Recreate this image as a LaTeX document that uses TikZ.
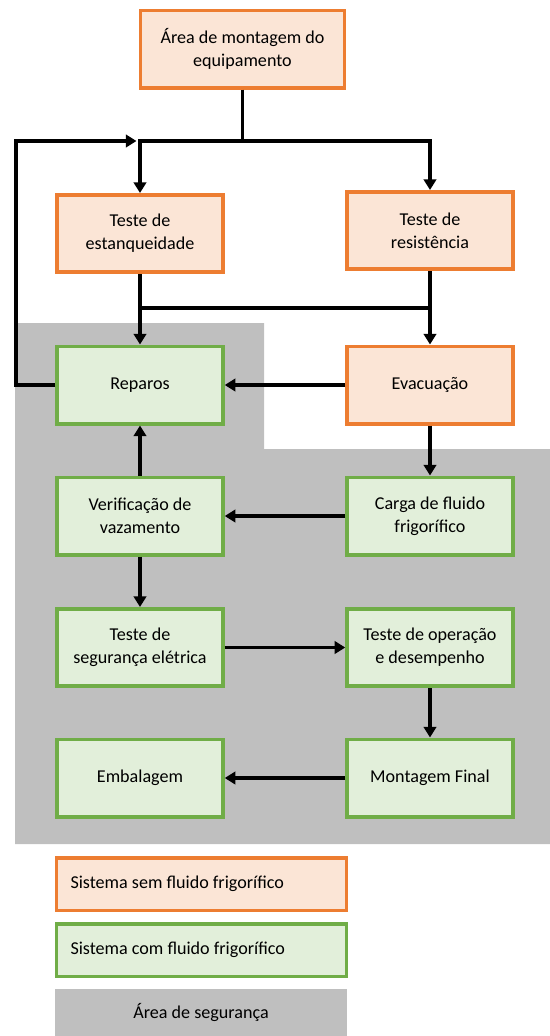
\documentclass[tikz,border=0pt]{standalone}
\usepackage{fontspec}
\setmainfont{Carlito}
\usepackage{xcolor}
\usetikzlibrary{positioning, calc, arrows.meta}

\definecolor{semline}{HTML}{ED7D31}
\definecolor{semfill}{HTML}{FBE5D6}
\definecolor{comline}{HTML}{70AD47}
\definecolor{comfill}{HTML}{E2EFDA}
\definecolor{areagray}{HTML}{BFBFBF}

\begin{document}
\begin{tikzpicture}[x=0.02cm,y=-0.02cm,font=\fontsize{10.3}{13}\selectfont,
    semfl/.style={draw=semline,fill=semfill,line width=2pt,minimum width=3.32cm,minimum height=1.55cm,align=center,inner sep=2pt},
    comfl/.style={draw=comline,fill=comfill,line width=2pt,minimum width=3.32cm,minimum height=1.55cm,align=center,inner sep=2pt},
    legenda/.style={align=flush left,text width=5.24cm,inner xsep=0.28cm,minimum height=1.05cm},
    flecha/.style={line width=2pt,-{Triangle[length=6pt,width=7pt]}}]
    \useasboundingbox (0,0) rectangle (550,1036);
    % area de seguranca
    \fill[areagray] (15,323) -- (264,323) -- (264,449) -- (550,449) -- (550,844) -- (15,844) -- cycle;
        \node[semfl,minimum width=4.08cm] (montagem) at (242.5,49) {Área de montagem do\\equipamento};
        \node[semfl] (estanq) at (140,233.5) {Teste de\\estanqueidade};
        \node[semfl] (resist) at (430,230.5) {Teste de\\resistência};
        \node[comfl] (reparos) at (140,385) {Reparos};
        \node[semfl] (evac) at (430,385) {Evacuação};
        \node[comfl] (verif) at (140,516) {Verificação de\\vazamento};
        \node[comfl] (carga) at (430,516) {Carga de fluido\\frigorífico};
        \node[comfl] (seguranca) at (140,647.5) {Teste de\\segurança elétrica};
        \node[comfl] (operacao) at (430,647.5) {Teste de operação\\e desempenho};
        \node[comfl] (embalagem) at (140,778) {Embalagem};
        \node[comfl] (final) at (430,778) {Montagem Final};
        \coordinate (topo) at (243,141);
        \coordinate (volta) at (15.8,141);
        \coordinate (meio) at (0,308);
        \draw[flecha] (montagem.south) -- (montagem.south |- topo) -| (estanq.north);
        \draw[flecha] (montagem.south |- topo) -| (resist.north);
        \draw[flecha,shorten >=2pt] (reparos.west) -| (volta) -- (estanq.north |- volta);
        \draw[flecha] (estanq.south) -- (estanq.south |- meio) -- (reparos.north);
        \draw[flecha] (resist.south) -- (resist.south |- meio) -- (evac.north);
        \draw[line width=2pt] (estanq.south |- meio) -- (resist.south |- meio);
        \draw[flecha] (evac) -- (reparos);
        \draw[flecha] (evac) -- (carga);
        \draw[flecha] (carga) -- (verif);
        \draw[flecha] (verif) -- (reparos);
        \draw[flecha] (verif) -- (seguranca);
        \draw[flecha] (seguranca) -- (operacao);
        \draw[flecha] (operacao) -- (final);
        \draw[flecha] (final) -- (embalagem);
    % legenda
        \node[draw=semline,fill=semfill,line width=2pt,legenda] (legsem) at (201.5,884) {Sistema sem fluido frigorífico};
        \node[draw=comline,fill=comfill,line width=2pt,legenda] (legcom) at (201.5,950) {Sistema com fluido frigorífico};
        \node[fill=areagray,minimum width=5.84cm,minimum height=0.94cm] (legarea) at (201,1012.5) {Área de segurança};
    \end{tikzpicture}
\end{document}
